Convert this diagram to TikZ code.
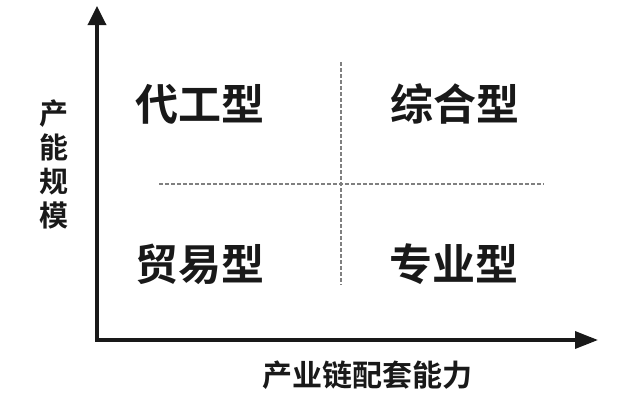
\documentclass[tikz,border=0pt]{standalone}
\usepackage{fontspec}
\newfontfamily\cjk{Noto Sans CJK SC}[BoldFont={Noto Sans CJK SC Bold}]
\usetikzlibrary{arrows.meta,positioning}

\begin{document}
\begin{tikzpicture}[
  x=1pt, y=-1pt,
  font=\cjk\bfseries,
  axis/.style={line width=3.5pt, draw=black!90, line join=miter,
    {Triangle[length=19pt,width=18pt]}-{Triangle[length=23pt,width=17pt]}},
  guide/.style={draw=black!50, line width=1.4pt, dash pattern=on 3.5pt off 2.5pt},
  quad/.style={font=\cjk\bfseries\fontsize{43}{46}\selectfont, text=black!90, inner sep=0pt},
  axislabel/.style={font=\cjk\bfseries\fontsize{29}{34}\selectfont, text=black!90, inner sep=0pt, align=center}
]

\useasboundingbox (0,0) rectangle (635,400);

% axes
\coordinate (o) at (97,340);
\coordinate (ytop) at (97,6);
\coordinate (xend) at (598,340);
\draw[axis] (ytop) -- (o) -- (xend);

% dotted quadrant split
\coordinate (vtop) at (341,62);
\coordinate (vbot) at (341,285);
\coordinate (hleft) at (159,184);
\coordinate (hright) at (544,184);
\draw[guide] (vtop) -- (vbot);
\draw[guide] (hleft) -- (hright);

% quadrants
\node[quad] (oem) at (200,104) {代工型};
\node[quad] (full) at (455,104) {综合型};
\node[quad] (trade) at (200,264) {贸易型};
\node[quad] (spec) at (454,264) {专业型};

% axis titles
\node[axislabel] (ylab) at (54,164) {产\\能\\规\\模};
\node[axislabel] (xlab) at (367,375) {\fontsize{30}{34}\selectfont 产业链配套能力};

\end{tikzpicture}
\end{document}
